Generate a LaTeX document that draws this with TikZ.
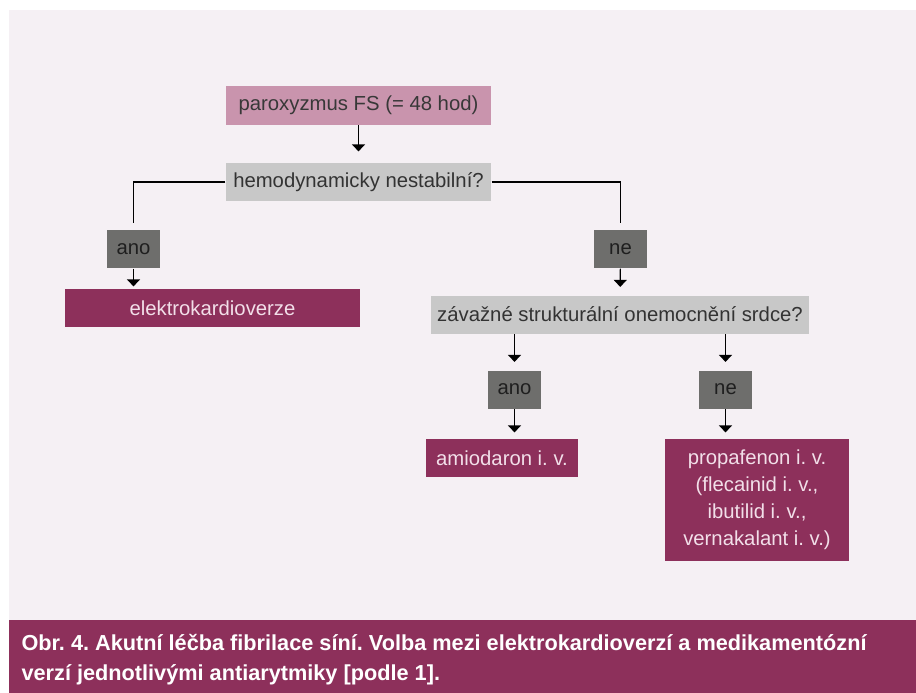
\documentclass[tikz,border=0pt]{standalone}
\usepackage{fontspec}
\setmainfont{Liberation Sans}
\usetikzlibrary{arrows.meta}
\frenchspacing

\definecolor{bgpink}{HTML}{F5F0F4}
\definecolor{startpink}{HTML}{C994AD}
\definecolor{lightgrey}{HTML}{C8C8C8}
\definecolor{darkgrey}{HTML}{6E6E6C}
\definecolor{wine}{HTML}{8D305B}
\definecolor{winetext}{HTML}{F2DFE9}

\begin{document}
\begin{tikzpicture}[x=1pt,y=-1pt,->,>={Triangle[width=13pt,length=7pt]},
    line width=1.2pt, shorten >=6pt]
    \tikzstyle{box}=[inner sep=0pt, minimum height=38pt, align=center,
        font=\fontsize{20.3}{27}\selectfont]
    \tikzstyle{startbox}=[box, fill=startpink, text=black!78, minimum width=265pt]
    \tikzstyle{question}=[box, fill=lightgrey, text=black!80]
    \tikzstyle{answer}=[box, fill=darkgrey, text=black!88, minimum width=53pt]
    \tikzstyle{therapy}=[box, fill=wine, text=winetext]
    \tikzstyle{caption}=[anchor=base west, inner sep=0pt, text=white,
        font=\fontsize{21.7}{25}\selectfont\bfseries]

    \useasboundingbox (0,0) rectangle (916,693);

    % Draw the background and the caption band
    \fill[bgpink] (9,10) rectangle (916,620);
    \fill[wine] (9,620) rectangle (916,693);

    % Draw the decision nodes
    \node[startbox] (P) at (358.5,105.5) {paroxyzmus FS (= 48 hod)};
    \node[question, minimum width=265pt] (Q1) at (358.5,182) {hemodynamicky nestabilní?};
    \node[question, minimum width=378pt] (Q2) at (620,314.5) {závažné strukturální onemocnění srdce?};

    % Draw the answers
    \node[answer] (A1) at (133.5,249) {ano};
    \node[answer] (N1) at (620.5,249) {ne};
    \node[answer] (A2) at (514.5,389.5) {ano};
    \node[answer] (N2) at (725.5,389.5) {ne};

    % Draw the therapies
    \node[therapy, minimum width=295pt] (E) at (212.5,308) {elektrokardioverze};
    \node[therapy, minimum width=152pt] (Amio) at (502,458) {amiodaron i. v.};
    \node[therapy, minimum width=184pt, minimum height=122pt] (Prop) at (757,500)
        {propafenon i. v.\\(flecainid i. v.,\\ibutilid i. v.,\\vernakalant i. v.)};

    % Connect the nodes
    \draw[shorten >=11pt] (P) -- (Q1);
    \draw[-] (Q1.west) -| (A1.north);
    \draw[-] (Q1.east) -| (N1.north);
    \draw[shorten >=2pt] (A1) -- (A1 |- E.north);
    \draw[shorten >=8pt] (N1) -- (Q2);
    \foreach \dest in {A2,N2}
        \draw[shorten >=8pt] (Q2.south -| \dest) -- (\dest);
    \foreach \source/\dest in {A2/Amio,N2/Prop}
        \draw (\source) -- (\source |- \dest.north);

    % Caption
    \node[caption] (cap1) at (21,650) {Obr. 4. Akutní léčba fibrilace síní. Volba mezi elektrokardioverzí a medikamentózní};
    \node[caption] (cap2) at (21,680) {verzí jednotlivými antiarytmiky [podle 1].};
\end{tikzpicture}
\end{document}
